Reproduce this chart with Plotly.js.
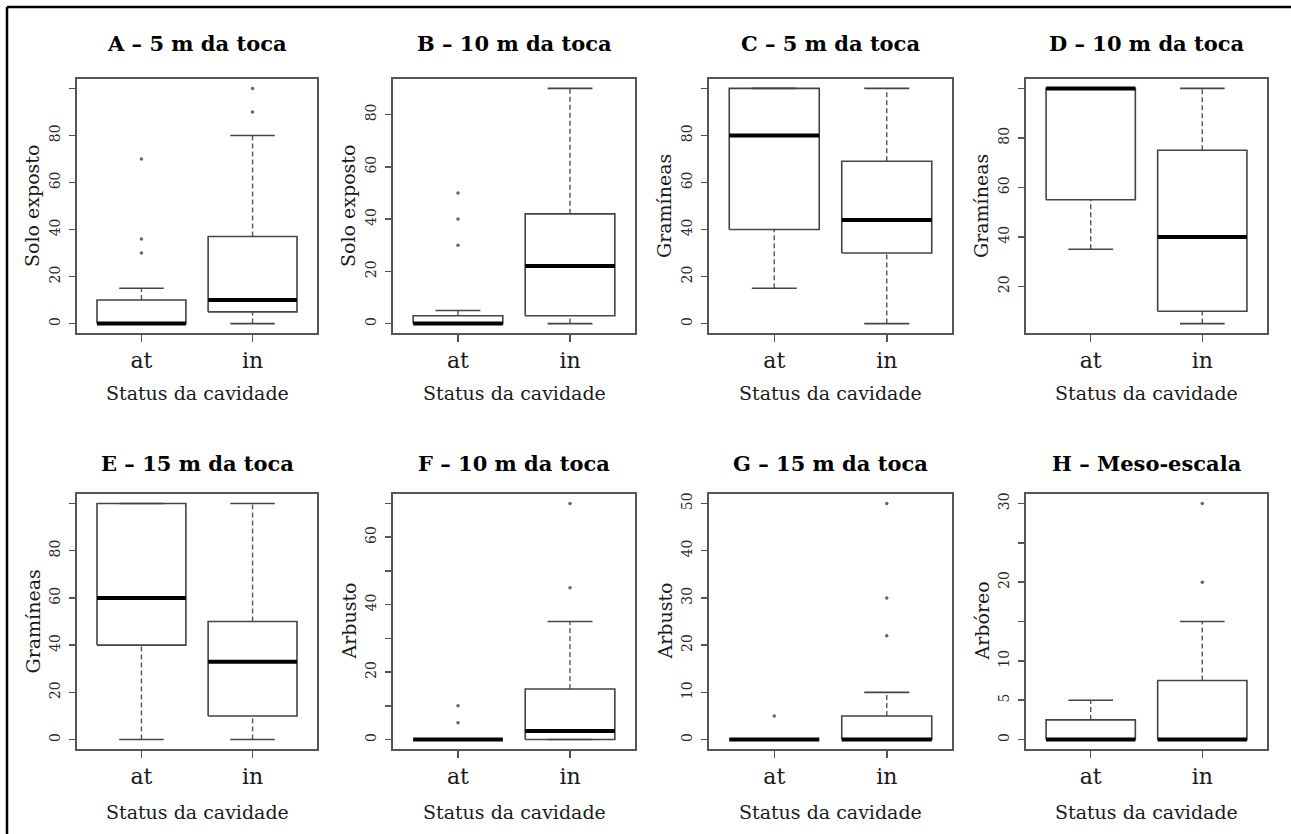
<!DOCTYPE html>
<html>
<head>
<meta charset="utf-8">
<script src="https://cdn.plot.ly/plotly-3.0.1.min.js"></script>
<style>html,body{margin:0;padding:0;background:#fff;}#chart{width:1291px;height:834px;}</style>
</head>
<body>
<div id="chart"></div>
<script>
// ---------------- DATA ----------------
const categories = ['at', 'in'];
const xAxisTitle = 'Status da cavidade';
const panelTitles = ['A – 5 m da toca', 'B – 10 m da toca', 'C – 5 m da toca', 'D – 10 m da toca',
                     'E – 15 m da toca', 'F – 10 m da toca', 'G – 15 m da toca', 'H – Meso-escala'];
const yAxisTitles = ['Solo exposto', 'Solo exposto', 'Gramíneas', 'Gramíneas',
                     'Gramíneas', 'Arbusto', 'Arbusto', 'Arbóreo'];

// box statistics: [lower whisker, Q1, median, Q3, upper whisker]
const statsA_at = [0, 0, 0, 10, 15];
const statsA_in = [0, 5, 10, 37, 80];
const outA_at = [30, 36, 70];
const outA_in = [90, 100];

const statsB_at = [0, 0, 0, 3, 5];
const statsB_in = [0, 3, 22, 42, 90];
const outB_at = [30, 40, 50];
const outB_in = [];

const statsC_at = [15, 40, 80, 100, 100];
const statsC_in = [0, 30, 44, 69, 100];
const outC_at = [];
const outC_in = [];

const statsD_at = [35, 55, 100, 100, 100];
const statsD_in = [5, 10, 40, 75, 100];
const outD_at = [];
const outD_in = [];

const statsE_at = [0, 40, 60, 100, 100];
const statsE_in = [0, 10, 33, 50, 100];
const outE_at = [];
const outE_in = [];

const statsF_at = [0, 0, 0, 0, 0];
const statsF_in = [0, 0, 2.5, 15, 35];
const outF_at = [5, 10];
const outF_in = [45, 70];

const statsG_at = [0, 0, 0, 0, 0];
const statsG_in = [0, 0, 0, 5, 10];
const outG_at = [5];
const outG_in = [22, 30, 50];

const statsH_at = [0, 0, 0, 2.5, 5];
const statsH_in = [0, 0, 0, 7.5, 15];
const outH_at = [];
const outH_in = [20, 30];

// y tick values / labels per panel
const yTicksA = [0, 20, 40, 60, 80, 100];       const yLabelsA = ['0', '20', '40', '60', '80', ''];
const yTicksB = [0, 20, 40, 60, 80];            const yLabelsB = ['0', '20', '40', '60', '80'];
const yTicksC = [0, 20, 40, 60, 80, 100];       const yLabelsC = ['0', '20', '40', '60', '80', ''];
const yTicksD = [20, 40, 60, 80, 100];          const yLabelsD = ['20', '40', '60', '80', ''];
const yTicksE = [0, 20, 40, 60, 80, 100];       const yLabelsE = ['0', '20', '40', '60', '80', ''];
const yTicksF = [0, 10, 20, 30, 40, 50, 60, 70]; const yLabelsF = ['0', '', '20', '', '40', '', '60', ''];
const yTicksG = [0, 10, 20, 30, 40, 50];        const yLabelsG = ['0', '10', '20', '30', '40', '50'];
const yTicksH = [0, 5, 10, 15, 20, 25, 30];     const yLabelsH = ['0', '5', '10', '', '20', '', '30'];

// ---------------- LAYOUT CONSTANTS ----------------
const W = 1291, H = 834;
const colPx = [[77, 317], [393, 635], [709, 952], [1026, 1267]];
const rowPx = [[79, 333], [494, 749]];
const titleY = [43, 463];
const xTitleY = [393, 812];
const FONT = 'DejaVu Serif, Liberation Serif, serif';
const TXT = '#1a1a1a';
const GREY = '#555555';
const BOXC = '#444444';
const HB = 0.4, HC = 0.2;

const panels = [
  [statsA_at, statsA_in, outA_at, outA_in, yTicksA, yLabelsA],
  [statsB_at, statsB_in, outB_at, outB_in, yTicksB, yLabelsB],
  [statsC_at, statsC_in, outC_at, outC_in, yTicksC, yLabelsC],
  [statsD_at, statsD_in, outD_at, outD_in, yTicksD, yLabelsD],
  [statsE_at, statsE_in, outE_at, outE_in, yTicksE, yLabelsE],
  [statsF_at, statsF_in, outF_at, outF_in, yTicksF, yLabelsF],
  [statsG_at, statsG_in, outG_at, outG_in, yTicksG, yLabelsG],
  [statsH_at, statsH_in, outH_at, outH_in, yTicksH, yLabelsH]
];

const traces = [];
const layout = {
  width: W, height: H,
  margin: {l: 0, r: 0, t: 0, b: 0},
  paper_bgcolor: '#fff', plot_bgcolor: '#fff',
  showlegend: false,
  font: {family: FONT, color: TXT},
  annotations: [],
  shapes: [
    {type: 'line', xref: 'paper', yref: 'paper', x0: 7 / W, x1: 1, y0: 1 - 7 / H, y1: 1 - 7 / H, line: {color: '#000', width: 2.5}},
    {type: 'line', xref: 'paper', yref: 'paper', x0: 7 / W, x1: 7 / W, y0: 0, y1: 1 - 7 / H, line: {color: '#000', width: 2.5}}
  ]
};

panels.forEach((p, i) => {
  const [sAt, sIn, oAt, oIn, yt, yl] = p;
  const row = Math.floor(i / 4), col = i % 4;
  const sfx = i === 0 ? '' : String(i + 1);
  const xa = 'x' + sfx, ya = 'y' + sfx;
  const stats = [sAt, sIn], outs = [oAt, oIn];

  const wx = [], wy = [], cx = [], cy = [], bx = [], by = [], mx = [], my = [], ox = [], oy = [];
  stats.forEach((s, k) => {
    const c = k + 1;
    const [lo, q1, md, q3, up] = s;
    if (up > q3) { wx.push(c, c, null); wy.push(q3, up, null); }
    if (lo < q1) { wx.push(c, c, null); wy.push(lo, q1, null); }
    cx.push(c - HC, c + HC, null, c - HC, c + HC, null);
    cy.push(up, up, null, lo, lo, null);
    bx.push(c - HB, c + HB, c + HB, c - HB, c - HB, null);
    by.push(q1, q1, q3, q3, q1, null);
    mx.push(c - HB, c + HB, null);
    my.push(md, md, null);
    outs[k].forEach(v => { ox.push(c); oy.push(v); });
  });
  const base = {type: 'scatter', xaxis: xa, yaxis: ya, hoverinfo: 'skip', showlegend: false};
  traces.push(Object.assign({}, base, {x: wx, y: wy, mode: 'lines', line: {color: GREY, width: 1.4, dash: '5px,3px'}}));
  traces.push(Object.assign({}, base, {x: cx, y: cy, mode: 'lines', line: {color: BOXC, width: 1.6}}));
  traces.push(Object.assign({}, base, {x: bx, y: by, mode: 'lines', line: {color: BOXC, width: 1.6}}));
  traces.push(Object.assign({}, base, {x: mx, y: my, mode: 'lines', line: {color: '#000', width: 4}}));
  traces.push(Object.assign({}, base, {x: ox, y: oy, mode: 'markers', marker: {color: '#666', size: 3.5}}));

  // R-style 4% range extension from the data
  const all = sAt.concat(sIn, oAt, oIn);
  const mn = Math.min(...all), mxv = Math.max(...all);
  const pad = (mxv - mn) * 0.04;

  const [x0, x1] = colPx[col], [y0, y1] = rowPx[row];
  layout['xaxis' + sfx] = {
    domain: [x0 / W, x1 / W], anchor: ya, range: [0.42, 2.58],
    tickvals: [1, 2], ticktext: categories, ticks: 'outside', ticklen: 7, tickwidth: 1.5, tickcolor: GREY,
    showline: true, mirror: true, linecolor: GREY, linewidth: 2, showgrid: false, zeroline: false,
    tickfont: {family: FONT, size: 22, color: TXT}, ticklabelstandoff: 0, fixedrange: true
  };
  layout['yaxis' + sfx] = {
    domain: [1 - y1 / H, 1 - y0 / H], anchor: xa, range: [mn - pad, mxv + pad],
    tickvals: yt, ticktext: yl, ticks: 'outside', ticklen: 6, tickwidth: 1.5, tickcolor: GREY,
    tickangle: -90, showline: true, mirror: true, linecolor: GREY, linewidth: 2, showgrid: false, zeroline: false,
    tickfont: {family: FONT, size: 14, color: '#2a2a2a'}, ticklabelstandoff: 3, fixedrange: true
  };
  const cxp = (x0 + x1) / 2;
  layout.annotations.push({xref: 'paper', yref: 'paper', x: cxp / W, y: 1 - titleY[row] / H, xanchor: 'center', yanchor: 'middle',
    text: '<b>' + panelTitles[i] + '</b>', showarrow: false, font: {family: FONT, size: 21, color: '#000'}});
  layout.annotations.push({xref: 'paper', yref: 'paper', x: cxp / W, y: 1 - xTitleY[row] / H, xanchor: 'center', yanchor: 'middle',
    text: xAxisTitle, showarrow: false, font: {family: FONT, size: 19, color: TXT}});
  layout.annotations.push({xref: 'paper', yref: 'paper', x: (x0 - 45) / W, y: 1 - (y0 + y1) / 2 / H, xanchor: 'center', yanchor: 'middle',
    text: yAxisTitles[i], textangle: -90, showarrow: false, font: {family: FONT, size: 19, color: TXT}});
});

Plotly.newPlot('chart', traces, layout, {staticPlot: true, displayModeBar: false});
</script>
</body>
</html>
